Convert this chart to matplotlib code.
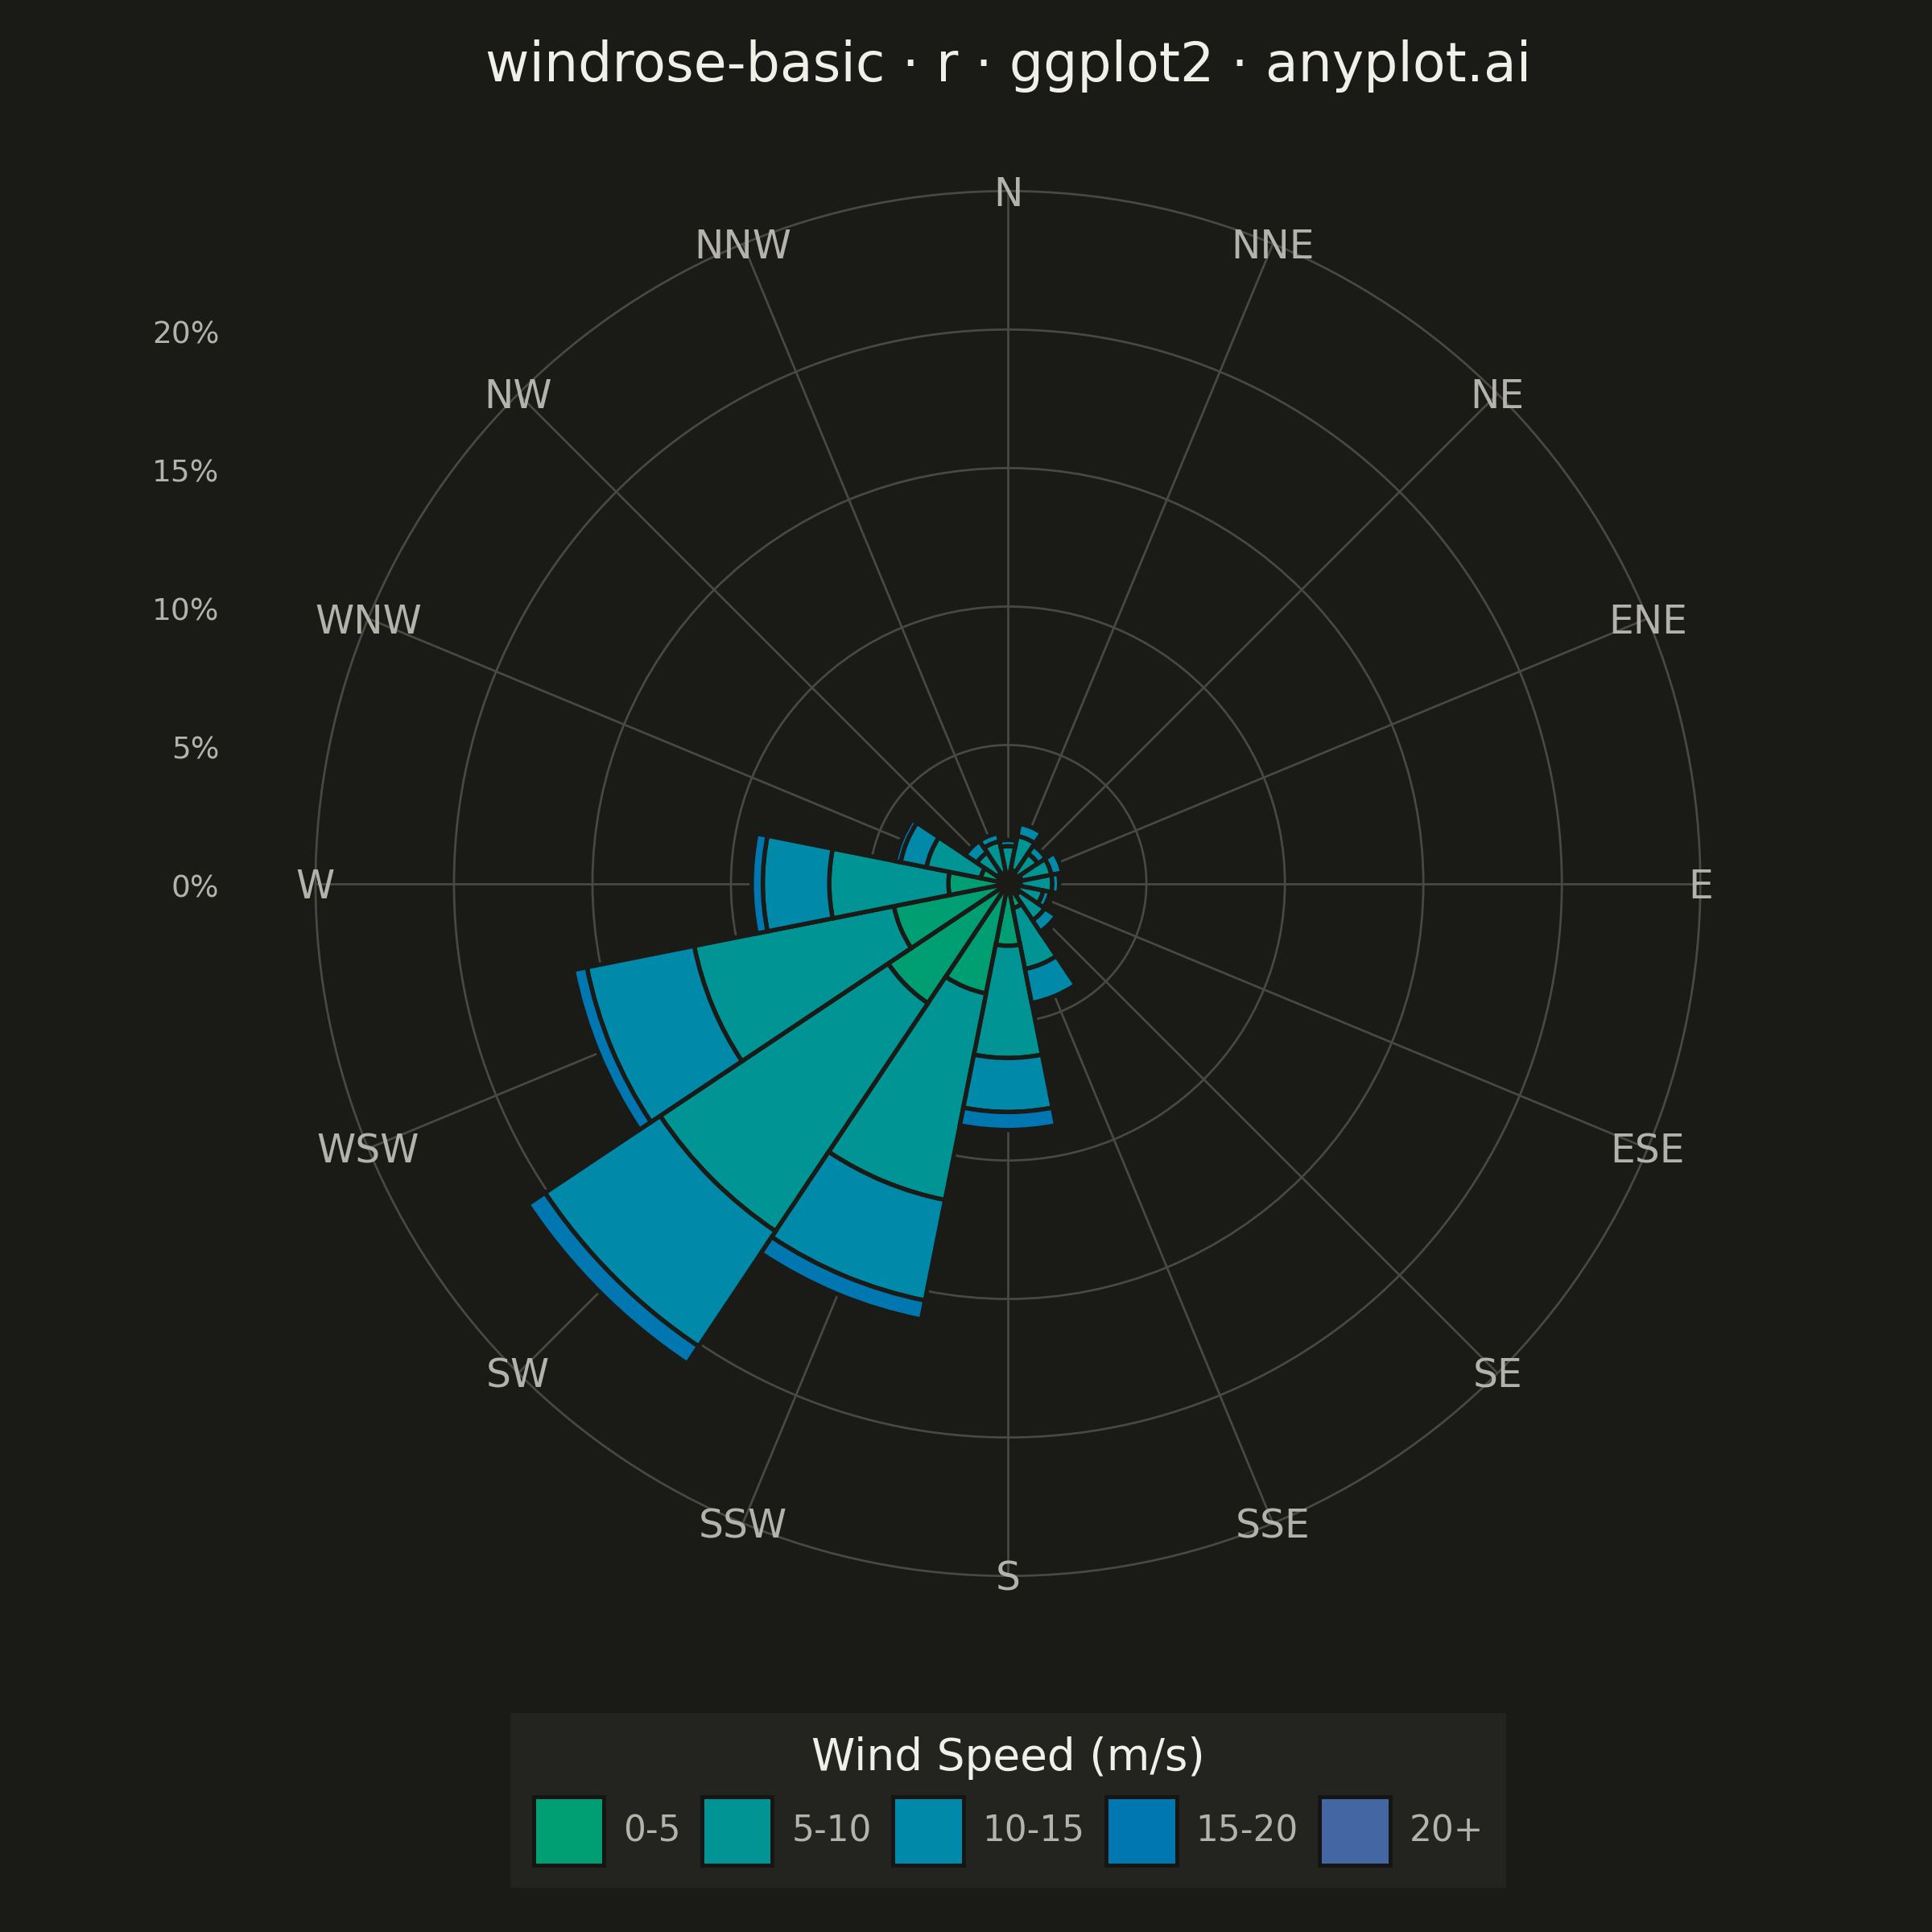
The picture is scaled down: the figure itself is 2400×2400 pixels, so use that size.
import numpy as np
import matplotlib
matplotlib.use("Agg")
import matplotlib.pyplot as plt
from matplotlib.patches import Patch

# ---------------- data (percent of observations) ----------------
directions = ["N", "NNE", "NE", "ENE", "E", "ESE", "SE", "SSE",
              "S", "SSW", "SW", "WSW", "W", "WNW", "NW", "NNW"]
speed_bins = ["0-5", "5-10", "10-15", "15-20", "20+"]

freq_0_5 = [0.35, 0.50, 0.40, 0.50, 0.45, 0.40, 0.50, 0.90,
            2.25, 4.05, 5.20, 4.20, 2.15, 1.00, 0.45, 0.40]
freq_5_10 = [1.00, 1.25, 0.90, 1.10, 1.15, 0.90, 1.10, 2.25,
             4.05, 7.60, 9.90, 7.35, 4.30, 2.00, 0.90, 1.15]
freq_10_15 = [0.22, 0.45, 0.35, 0.40, 0.25, 0.25, 0.50, 1.25,
              1.95, 3.70, 5.00, 3.95, 2.40, 0.95, 0.50, 0.30]
freq_15_20 = [0.00, 0.00, 0.00, 0.00, 0.00, 0.10, 0.12, 0.00,
              0.65, 0.70, 0.75, 0.50, 0.40, 0.20, 0.00, 0.00]
freq_20_plus = [0.0] * 16

r_ticks = [0, 5, 10, 15, 20]
r_tick_labels = ["0%", "5%", "10%", "15%", "20%"]

title = "windrose-basic · r · ggplot2 · anyplot.ai"
legend_title = "Wind Speed (m/s)"

# ---------------- style ----------------
BG = "#1A1A17"
GRID = "#494944"
TXT = "#B3B3AB"
TITLE_C = "#F0EFE8"
colors = ["#009E73", "#009594", "#0089A9", "#0077B0", "#4466A3"]

fig = plt.figure(figsize=(8, 8), dpi=300, facecolor=BG)
ax = fig.add_axes([0.1633, 0.1843, 0.7168, 0.7168], projection="polar")
ax.set_facecolor(BG)
ax.set_theta_zero_location("N")
ax.set_theta_direction(-1)

theta = np.deg2rad(np.arange(len(directions)) * 360.0 / len(directions))
width = 2 * np.pi / len(directions)

series = [freq_0_5, freq_5_10, freq_10_15, freq_15_20, freq_20_plus]
bottom = np.zeros(len(directions))
for vals, col in zip(series, colors):
    v = np.asarray(vals, dtype=float)
    m = v > 0
    if m.any():
        ax.bar(theta[m], v[m], width=width, bottom=bottom[m], color=col,
               edgecolor=BG, linewidth=1.3, zorder=3, align="center")
    bottom += v

ax.set_ylim(0, 25)
ax.set_xticks(theta)
ax.set_xticklabels([])
ax.set_yticks(r_ticks[1:])
ax.set_yticklabels([])
ax.tick_params(length=0)
ax.set_axisbelow(True)
ax.grid(True, color=GRID, linewidth=0.65)
ax.spines["polar"].set_color(GRID)
ax.spines["polar"].set_linewidth(0.65)

# direction labels sitting on the outer ring
for t, d in zip(theta, directions):
    ax.annotate(d, xy=(t, 25.0), xytext=(0, -1.0), textcoords="offset points",
                ha="center", va="center", fontsize=11.7, color=TXT,
                zorder=6, annotation_clip=False)

# radial labels on the left, at the height of each ring
inv = fig.transFigure.inverted()
for rv, lab in zip(r_ticks, r_tick_labels):
    _, yf = inv.transform(ax.transData.transform((0.0, rv)))
    fig.text(0.1135, yf - 0.0028, lab, ha="right", va="center", fontsize=9.0,
             color=TXT)

fig.text(0.522, 0.966, title, ha="center", va="center", fontsize=16,
         color=TITLE_C)

handles = [Patch(facecolor=c, edgecolor="#151513", linewidth=1.2, label=l)
           for c, l in zip(colors, speed_bins)]
leg = fig.legend(handles=handles, loc="center", bbox_to_anchor=(0.522, 0.068),
                 ncol=5, title=legend_title, frameon=True, facecolor="#232320",
                 edgecolor="#232320", fancybox=False, fontsize=10.5,
                 title_fontsize=13.2, labelcolor=TXT, handlelength=2.0,
                 handleheight=2.6, handletextpad=0.55, columnspacing=0.6,
                 borderpad=0.6)
leg.get_title().set_color(TITLE_C)
leg.get_frame().set_alpha(1.0)

fig.savefig("out.png", dpi=300, facecolor=BG)
